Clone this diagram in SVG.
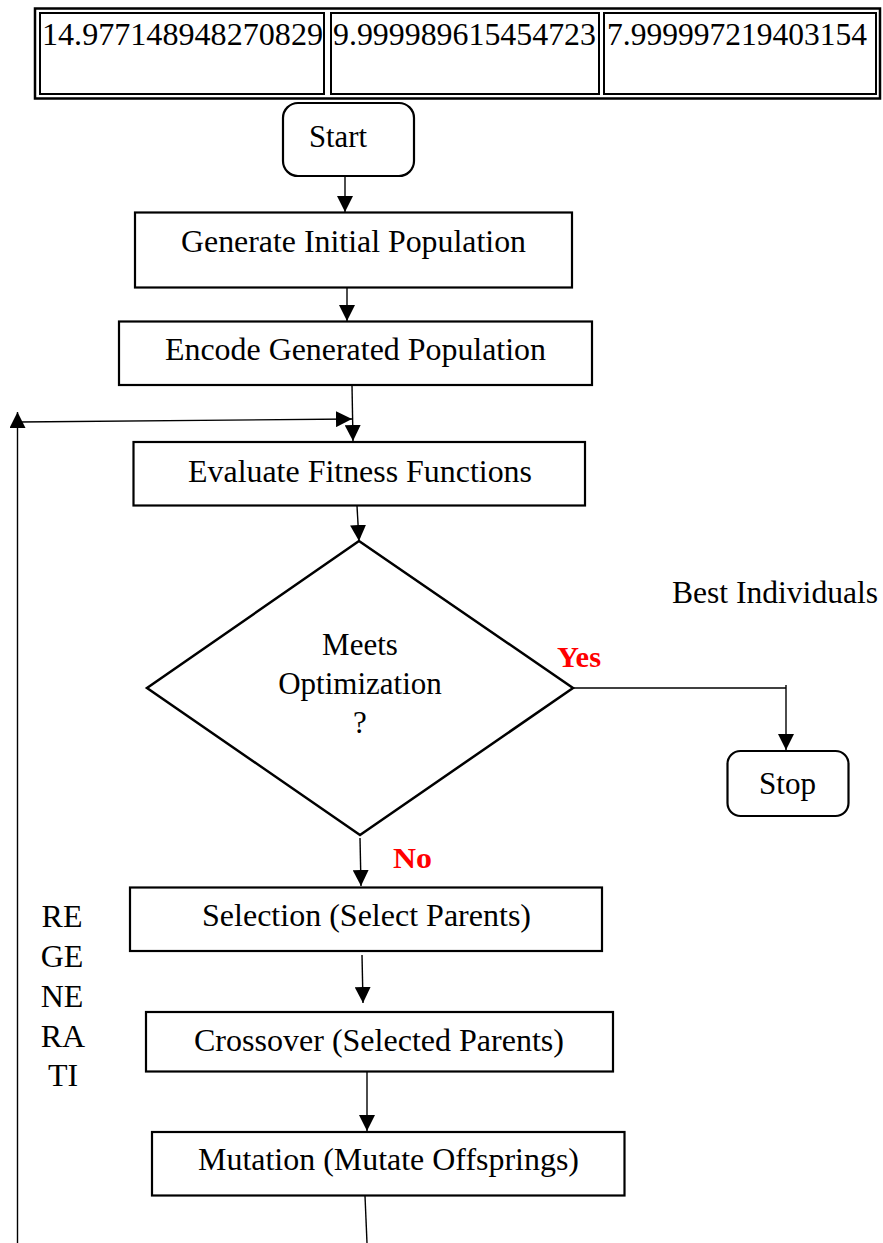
<svg xmlns="http://www.w3.org/2000/svg" width="883" height="1243" viewBox="0 0 883 1243">
<defs>
<style>
text{font-family:"Liberation Serif","Times New Roman",serif;font-size:32px;fill:#000}
.box{fill:#fff;stroke:#000;stroke-width:2.2}
.cell{fill:none;stroke:#000;stroke-width:2}
.conn{fill:none;stroke:#000;stroke-width:1.4}
.lbl{fill:#ff0000;font-weight:bold;font-size:30px}
.mid{text-anchor:middle}
</style>
<marker id="arr" markerUnits="userSpaceOnUse" markerWidth="16" markerHeight="16" viewBox="0 0 15 15" refX="15" refY="7.5" orient="auto">
<path d="M0,0 L15,7.5 L0,15 z" fill="#000"/>
</marker>
</defs>
<rect width="883" height="1243" fill="#fff"/>

<g id="table">
<rect x="35" y="8.5" width="845" height="90" fill="none" stroke="#000" stroke-width="2.5"/>
<rect class="cell" x="40" y="13" width="284" height="81"/>
<rect class="cell" x="331" y="13" width="268" height="81"/>
<rect class="cell" x="604" y="13" width="272" height="81"/>
<text x="42" y="45" textLength="281" lengthAdjust="spacingAndGlyphs">14.977148948270829</text>
<text x="333" y="45" textLength="263" lengthAdjust="spacingAndGlyphs">9.999989615454723</text>
<text x="607" y="45" textLength="260" lengthAdjust="spacingAndGlyphs">7.999997219403154</text>
</g>

<g id="connectors">
<path class="conn" d="M345,177 L345,212" marker-end="url(#arr)"/>
<path class="conn" d="M347,288 L347,321" marker-end="url(#arr)"/>
<path class="conn" d="M352,385 L353,441" marker-end="url(#arr)"/>
<path class="conn" d="M357,506 L359,541" marker-end="url(#arr)"/>
<path class="conn" d="M573,688 L786,688"/>
<path class="conn" d="M786,685 L786,750" marker-end="url(#arr)"/>
<path class="conn" d="M360,838 L361,886" marker-end="url(#arr)"/>
<path class="conn" d="M362,955 L363,1003" marker-end="url(#arr)"/>
<path class="conn" d="M367,1067 L367,1131" marker-end="url(#arr)"/>
<path class="conn" d="M365,1196 L367,1243"/>
<path class="conn" d="M17.5,1243 L17.5,412" marker-end="url(#arr)"/>
<path class="conn" d="M19,422 L352,419" marker-end="url(#arr)"/>
</g>

<g id="start">
<rect class="box" x="283" y="103" width="131" height="73" rx="15"/>
<text x="309" y="147" textLength="58" lengthAdjust="spacingAndGlyphs">Start</text>
</g>

<g id="generate">
<rect class="box" x="135" y="212.5" width="437" height="75"/>
<text x="181" y="252" textLength="345" lengthAdjust="spacingAndGlyphs">Generate Initial Population</text>
</g>

<g id="encode">
<rect class="box" x="119" y="321.5" width="473" height="63.5"/>
<text x="165" y="360" textLength="381" lengthAdjust="spacingAndGlyphs">Encode Generated Population</text>
</g>

<g id="evaluate">
<rect class="box" x="133.5" y="442" width="451.5" height="63.5"/>
<text x="188" y="482" textLength="344" lengthAdjust="spacingAndGlyphs">Evaluate Fitness Functions</text>
</g>

<g id="decision">
<polygon points="359,541 573,688 360,835 147,688" fill="#fff" stroke="#000" stroke-width="2.5"/>
<text class="mid" x="360" y="655" style="font-size:31px">Meets</text>
<text class="mid" x="360" y="694" style="font-size:31px">Optimization</text>
<text class="mid" x="360" y="733" style="font-size:31px">?</text>
</g>

<g id="yes-label">
<text class="lbl" x="557" y="667" textLength="44" lengthAdjust="spacingAndGlyphs">Yes</text>
</g>

<g id="best-label">
<text x="672" y="603" textLength="206" lengthAdjust="spacingAndGlyphs">Best Individuals</text>
</g>

<g id="stop">
<rect class="box" x="727.5" y="751" width="121" height="65" rx="13"/>
<text x="759" y="794" textLength="57" lengthAdjust="spacingAndGlyphs">Stop</text>
</g>

<g id="no-label">
<text class="lbl" x="393" y="868" textLength="39" lengthAdjust="spacingAndGlyphs">No</text>
</g>

<g id="selection">
<rect class="box" x="130" y="887.5" width="472" height="63.5"/>
<text x="202" y="926" textLength="329" lengthAdjust="spacingAndGlyphs">Selection (Select Parents)</text>
</g>

<g id="crossover">
<rect class="box" x="146" y="1012" width="467" height="59.5"/>
<text x="194" y="1051" textLength="370" lengthAdjust="spacingAndGlyphs">Crossover (Selected Parents)</text>
</g>

<g id="mutation">
<rect class="box" x="152" y="1132" width="472.5" height="63.5"/>
<text x="198" y="1170" textLength="381" lengthAdjust="spacingAndGlyphs">Mutation (Mutate Offsprings)</text>
</g>

<g id="regeneration-label">
<text class="mid" x="62" y="927">RE</text>
<text class="mid" x="62" y="967">GE</text>
<text class="mid" x="62" y="1007">NE</text>
<text class="mid" x="63" y="1047">RA</text>
<text class="mid" x="63" y="1086">TI</text>
</g>
</svg>
